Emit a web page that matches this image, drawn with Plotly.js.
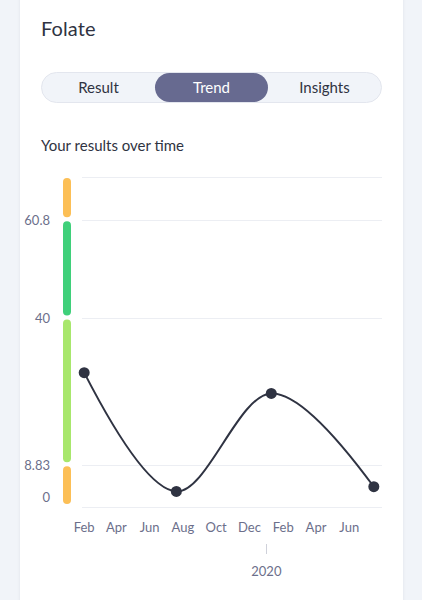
<!DOCTYPE html>
<html>
<head>
<meta charset="utf-8">
<script src="https://cdn.plot.ly/plotly-3.0.1.min.js"></script>
<style>
  html, body { margin:0; padding:0; width:422px; height:600px; overflow:hidden; background:#f1f4f9; font-family: Lato, "Open Sans", sans-serif; }
  #card { position:absolute; left:20px; top:-20px; width:383px; height:640px; background:#ffffff; box-shadow:0 0 3px rgba(60,70,100,0.10); }
  #title { position:absolute; left:41px; top:16px; font-size:20px; color:#2f3342; letter-spacing:0.1px; }
  #seg { position:absolute; left:41px; top:72px; width:339px; height:29px; border:1px solid #e3e6ee; border-radius:16px; background:#f1f4f9; display:flex; }
  #seg div { flex:1; text-align:center; line-height:29px; font-size:15px; color:#2f3342; border-radius:15px; }
  #seg div.active { background:#676a90; color:#ffffff; }
  #sub { position:absolute; left:41px; top:136px; font-size:15px; color:#2f3342; }
  #chart { position:absolute; left:0; top:0; width:422px; height:600px; }
</style>
</head>
<body>
<div id="card"></div>
<div id="title">Folate</div>
<div id="seg"><div>Result</div><div class="active">Trend</div><div>Insights</div></div>
<div id="sub">Your results over time</div>
<div id="chart"></div>
<script>
// ---- data ----
const dates = ['2019-02-01', '2019-07-20', '2020-01-10', '2020-07-16'];
const values = [28.5, 3.3, 24.1, 4.3];
const bandEdges = [0, 8.83, 40, 60.8, 70];
const yTickVals = [8.83, 40, 60.8];
const yTickText = ['8.83', '40', '60.8'];
const zeroTickVals = [0];
const zeroTickText = ['0'];
const yearTickVals = ['2020-01-01'];
const yearTickText = ['2020'];
const xRange = ['2019-01-28', '2020-07-31'];

// ---- style ----
const bandColors = ['#fcbf56', '#a8e76c', '#3fd07a', '#fcbf56'];
const ink = '#2f3342';
const tickColor = '#6c6f8b';
const gridColor = '#eceef3';
const W = 422, H = 600;
const yBottomPx = 507, yTopPx = 177;      // page y of lowest / highest band edge
const vMin = bandEdges[0], vMax = bandEdges[bandEdges.length - 1];
const pxPerUnit = (yBottomPx - yTopPx) / (vMax - vMin);
const padPx = 2, pad = padPx / pxPerUnit;  // keep edge gridlines inside the range
const M = {l: 0, r: 40, t: yTopPx - padPx, b: 57};
const plotW = W - M.l - M.r, plotH = H - M.t - M.b;
const yDom = [(H - M.b - (yBottomPx + padPx)) / plotH, 1];
const yRange = [vMin - pad, vMax + pad];
const barW = 8, capR = barW / 2, gapBelow = 3, gapAbove = 1;

const font = {family: 'Lato, "Open Sans", sans-serif', size: 13, color: tickColor};

const traces = [];
// band bar segments
for (let i = 0; i < bandEdges.length - 1; i++) {
  const lo = bandEdges[i] + (gapBelow + capR) / pxPerUnit;
  const hi = bandEdges[i + 1] - (gapAbove + capR) / pxPerUnit;
  traces.push({
    x: [0.5, 0.5], y: [lo, hi], xaxis: 'x2', yaxis: 'y2',
    mode: 'lines', line: {color: bandColors[i], width: barW},
    hoverinfo: 'skip', showlegend: false
  });
}
// main series
traces.push({
  x: dates, y: values, xaxis: 'x', yaxis: 'y', type: 'scatter',
  mode: 'lines+markers', cliponaxis: false,
  line: {color: ink, width: 2, shape: 'spline', smoothing: 1},
  marker: {color: ink, size: 11},
  showlegend: false
});
// helpers so the overlay axes are drawn
traces.push({x: dates, y: values, xaxis: 'x3', yaxis: 'y', mode: 'none', hoverinfo: 'skip', showlegend: false});
traces.push({x: dates, y: values, xaxis: 'x', yaxis: 'y3', mode: 'none', hoverinfo: 'skip', showlegend: false});

const xDom = [82 / plotW, 1];
const layout = {
  width: W, height: H,
  margin: M,
  paper_bgcolor: 'rgba(0,0,0,0)', plot_bgcolor: 'rgba(0,0,0,0)',
  font: font,
  xaxis: {
    type: 'date', domain: xDom, range: xRange, anchor: 'y',
    dtick: 'M2', tick0: '2019-02-01', tickformat: '%b',
    showgrid: false, zeroline: false, showline: false, ticks: '',
    ticklabelstandoff: 9, tickfont: font, fixedrange: true
  },
  xaxis3: {
    type: 'date', overlaying: 'x', anchor: 'free', position: 0, side: 'bottom',
    range: xRange, tickmode: 'array', tickvals: yearTickVals, ticktext: yearTickText,
    ticks: 'outside', ticklen: 10, tickwidth: 1, tickcolor: '#cfd1da',
    showgrid: false, zeroline: false, showline: false, ticklabelstandoff: 6, tickfont: font
  },
  yaxis: {
    domain: yDom, range: yRange, anchor: 'x',
    tickmode: 'array', tickvals: [vMin].concat(yTickVals, [vMax]),
    ticktext: [''].concat(yTickText, ['']),
    showgrid: true, gridcolor: gridColor, gridwidth: 1,
    zeroline: false, showline: false, ticks: '', ticklabelstandoff: 31, tickfont: font
  },
  yaxis3: {
    overlaying: 'y', anchor: 'x', side: 'left', range: yRange,
    tickmode: 'array', tickvals: zeroTickVals, ticktext: zeroTickText, ticklabelshift: -10,
    showgrid: false, zeroline: false, showline: false, ticks: '', ticklabelstandoff: 31, tickfont: font
  },
  xaxis2: {domain: [63 / plotW, 71 / plotW], range: [0, 1], anchor: 'y2', visible: false},
  yaxis2: {domain: yDom, range: yRange, anchor: 'x2', visible: false}
};

Plotly.newPlot('chart', traces, layout, {displayModeBar: false, staticPlot: true}).then(function () {
  document.querySelectorAll('.subplot.x2y2 path.js-line').forEach(function (p) {
    p.style.strokeLinecap = 'round';
  });
});
</script>
</body>
</html>
